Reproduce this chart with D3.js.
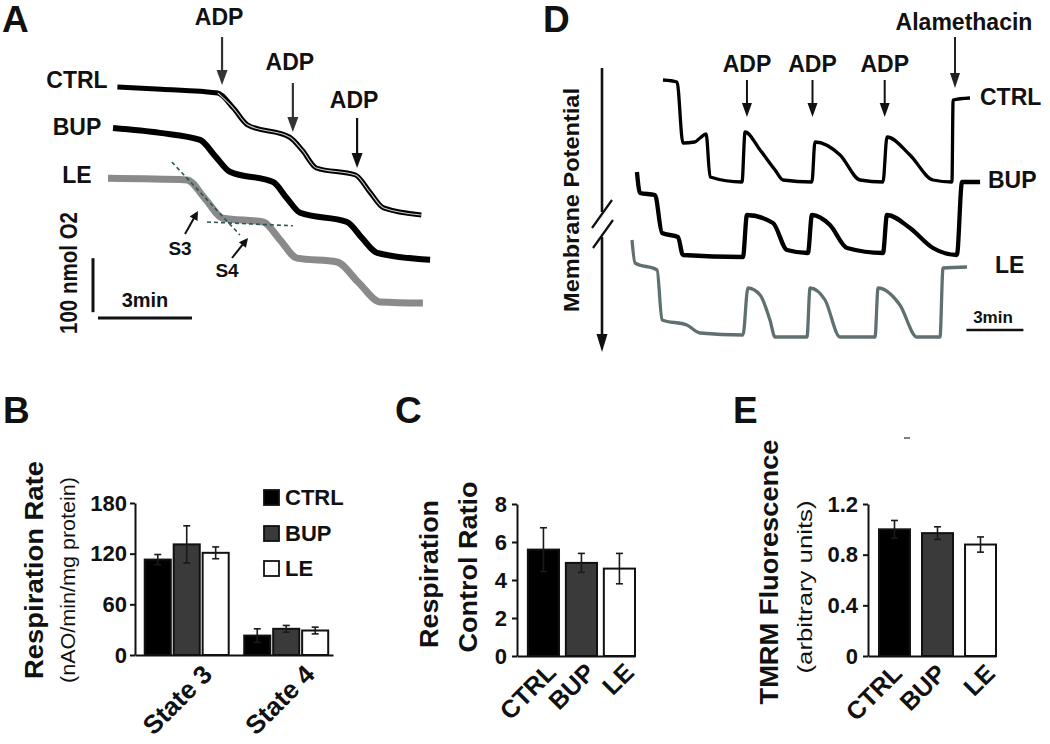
<!DOCTYPE html>
<html>
<head>
<meta charset="utf-8">
<script src="https://cdn.jsdelivr.net/npm/d3@7"></script>
<style>
  body { margin: 0; background: #fff; }
  text { font-family: "Liberation Sans", Arial, Helvetica, sans-serif; font-weight: bold; fill: #111; }
</style>
</head>
<body>
<svg id="fig" width="1050" height="744"></svg>
<script>
// ---------- data ----------
// panel A: oxygen traces, [time (min), O2 (nmol)]
var o2Ctrl = [[0.3,450],[1.7,446],[3.5,439],[4.0,411],[4.45,380],[5.8,357],[6.2,333],[6.65,300],[7.9,287],[8.35,256],[8.8,226],[10.0,213]];
var o2Bup  = [[0.16,374],[1.66,365],[2.94,352],[3.42,322],[3.89,293],[5.27,274],[5.71,244],[6.13,217],[7.63,200],[8.11,170],[8.59,143],[10.28,130]];
var o2Le   = [[0,281],[2.52,278],[3.10,243],[3.67,207],[4.95,200],[5.49,167],[6.03,133],[7.31,126],[7.98,89],[8.68,52],[10.05,50]];
var s3Fit  = [[2.04,311],[4.21,176]];
var s4Fit  = [[3.16,200],[5.9,193]];
var adpTimesA = [3.64, 5.9, 7.95];

// panel D: membrane potential traces, [time (min), signal (a.u.)]
var mpCtrl = [[1.63,280],[2.37,278],[2.68,217],[3.3,218],[3.58,222],[3.9,226],[4.11,183],[5.79,178],[5.95,228],[6.74,210],[7.53,190],[7.95,180],[9.47,178],[9.63,218],[10.95,205],[12.0,180],[13.21,178],[13.42,223],[14.63,205],[15.84,180],[16.84,178],[16.9,260],[17.79,262]];
var mpBup  = [[0.26,188],[0.42,167],[1.21,165],[1.58,127],[2.42,123],[2.68,105],[5.84,103],[6.05,145],[7.42,137],[8.16,110],[9.26,107],[9.47,145],[10.42,135],[11.32,112],[13.21,107],[13.42,145],[14.63,132],[15.84,112],[17.1,105],[17.37,178],[18.32,178]];
var mpLe   = [[0,120],[0.16,97],[1.32,90],[1.58,40],[2.89,35],[3.58,27],[5.84,25],[6.1,72],[6.74,65],[7.26,40],[7.53,23],[9.21,23],[9.37,72],[10.16,60],[10.95,23],[12.79,23],[12.95,72],[14.1,55],[15.0,23],[16.21,23],[16.37,92],[17.63,93]];
var adpTimesD = [6.05, 9.5, 13.3];
var alaTimeD = 17.0;

// bar panels
var groups = ["CTRL", "BUP", "LE"];
var states = ["State 3", "State 4"];
var rateCtrl = [113, 23], rateCtrlErr = [6, 8];
var rateBup  = [131, 31], rateBupErr  = [22, 4];
var rateLe   = [121, 29], rateLeErr   = [7, 4];
var rcr    = [5.6, 4.9, 4.6], rcrErr  = [1.15, 0.5, 0.8];
var tmrm   = [1.0, 0.97, 0.88], tmrmErr = [0.07, 0.05, 0.06];
var rateTicks = [0, 60, 120, 180];
var rcrTicks  = [0, 2, 4, 6, 8];
var tmrmTicks = [0, 0.4, 0.8, 1.2];

var fills = { CTRL: "#000", BUP: "#3a3a3a", LE: "#fff" };

// ---------- helpers ----------
var svg = d3.select("#fig");

function arrow(g, x1, y1, x2, y2, hw, hl, col, sw) {
  var dx = x2 - x1, dy = y2 - y1, len = Math.hypot(dx, dy);
  var ux = dx / len, uy = dy / len;
  var bx = x2 - ux * hl, by = y2 - uy * hl;
  g.append("line").attr("x1", x1).attr("y1", y1).attr("x2", bx + ux * 1).attr("y2", by + uy * 1)
    .attr("stroke", col).attr("stroke-width", sw);
  g.append("path")
    .attr("d", "M" + x2 + "," + y2 + "L" + (bx - uy * hw) + "," + (by + ux * hw) + "L" + (bx + uy * hw) + "," + (by - ux * hw) + "Z")
    .attr("fill", col);
}

function label(g, x, y, str, size, anchor) {
  return g.append("text").attr("x", x).attr("y", y).attr("font-size", size)
    .attr("text-anchor", anchor || "middle").text(str);
}

function vtext(g, x, y, str, size, len, weight) {
  var t = g.append("text").attr("transform", "translate(" + x + "," + y + ") rotate(-90)")
    .attr("text-anchor", "middle").attr("font-size", size).text(str);
  if (len) t.attr("textLength", len).attr("lengthAdjust", "spacingAndGlyphs");
  if (weight) t.style("font-weight", weight);
  return t;
}

function styleAxis(ax) {
  ax.select(".domain").attr("stroke", "#111").attr("stroke-width", 2);
  ax.selectAll(".tick line").attr("stroke", "#111").attr("stroke-width", 2);
  ax.selectAll(".tick text").attr("font-size", 22).attr("fill", "#111")
    .style("font-family", '"Liberation Sans", Arial, sans-serif').style("font-weight", "bold");
}

function errBar(g, cx, y, v, e) {
  var col = "#1a1a1a";
  g.append("line").attr("x1", cx).attr("x2", cx).attr("y1", y(v - e)).attr("y2", y(v + e))
    .attr("stroke", col).attr("stroke-width", 1.6);
  [v - e, v + e].forEach(function (w) {
    g.append("line").attr("x1", cx - 3.5).attr("x2", cx + 3.5).attr("y1", y(w)).attr("y2", y(w))
      .attr("stroke", col).attr("stroke-width", 1.6);
  });
}

function xLabels(g, names, pos, yy, dx, size) {
  names.forEach(function (n, i) {
    g.append("text").attr("transform", "translate(" + (pos(n) + dx[i]) + "," + yy + ") rotate(-45)")
      .attr("text-anchor", "end").attr("font-size", size).text(n);
  });
}

// ---------- panel A ----------
var gA = svg.append("g");
label(gA, 2, 32, "A", 37, "start");
var xA = d3.scaleLinear().domain([0, 10.5]).range([108, 437]);
var yA = d3.scaleLinear().domain([0, 450]).range([330, 87]);
var lineA = d3.line().x(function (d) { return xA(d[0]); }).y(function (d) { return yA(d[1]); }).curve(d3.curveMonotoneX);

gA.append("path").datum(o2Le).attr("d", lineA).attr("fill", "none").attr("stroke", "#8a8a8a").attr("stroke-width", 7);
gA.append("path").datum(o2Bup).attr("d", lineA).attr("fill", "none").attr("stroke", "#000").attr("stroke-width", 6);
gA.append("path").datum(o2Ctrl).attr("d", lineA).attr("fill", "none").attr("stroke", "#000").attr("stroke-width", 5);
gA.append("path").datum(o2Ctrl.filter(function (d) { return d[0] >= 3.5; })).attr("d", lineA)
  .attr("fill", "none").attr("stroke", "#ccc").attr("stroke-width", 1.1);

[s3Fit, s4Fit].forEach(function (f) {
  gA.append("path").datum(f).attr("d", d3.line().x(function (d) { return xA(d[0]); }).y(function (d) { return yA(d[1]); }))
    .attr("fill", "none").attr("stroke", "#2d5656").attr("stroke-width", 1.6).attr("stroke-dasharray", "4,3");
});

label(gA, 77, 88, "CTRL", 23);
label(gA, 77, 135, "BUP", 23);
label(gA, 77, 183, "LE", 23);

var adpY = [[37, 85, 25], [83, 132, 70], [118, 168, 108]];
adpTimesA.forEach(function (t, i) {
  var x = xA(t);
  arrow(gA, x, adpY[i][0], x, adpY[i][1], 5.5, 15, i < 2 ? "#333" : "#111", 2.2);
  label(gA, x - 3, adpY[i][2], "ADP", 23);
});

arrow(gA, 185, 234, 198, 211, 4.5, 9, "#111", 2);
arrow(gA, 232, 258, 248, 238, 4.5, 9, "#111", 2);
label(gA, 180, 255, "S3", 19);
label(gA, 227, 277, "S4", 19);

// scale bars
gA.append("line").attr("x1", 93).attr("x2", 93).attr("y1", yA(133)).attr("y2", yA(33)).attr("stroke", "#111").attr("stroke-width", 3);
gA.append("line").attr("x1", xA(-0.32)).attr("x2", xA(2.68)).attr("y1", 318).attr("y2", 318).attr("stroke", "#111").attr("stroke-width", 3);
label(gA, 145, 307, "3min", 20);
vtext(gA, 77, 273, "100 nmol O2", 23, 122);

// ---------- panel D ----------
var gD = svg.append("g");
label(gD, 543, 32, "D", 37, "start");
var xD = d3.scaleLinear().domain([0, 18.5]).range([632, 983.5]);
var yD = d3.scaleLinear().domain([0, 300]).range([360, 60]);
var lineD = d3.line().x(function (d) { return xD(d[0]); }).y(function (d) { return yD(d[1]); }).curve(d3.curveMonotoneX);

gD.append("path").datum(mpLe).attr("d", lineD).attr("fill", "none").attr("stroke", "#607070").attr("stroke-width", 3.3);
gD.append("path").datum(mpBup).attr("d", lineD).attr("fill", "none").attr("stroke", "#000").attr("stroke-width", 4.3);
gD.append("path").datum(mpCtrl).attr("d", lineD).attr("fill", "none").attr("stroke", "#000").attr("stroke-width", 3.3);

adpTimesD.forEach(function (t) {
  var x = xD(t);
  arrow(gD, x, 80, x, 117, 5, 14, "#111", 2);
  label(gD, x, 72, "ADP", 23);
});
arrow(gD, xD(alaTimeD), 37, xD(alaTimeD), 88, 5, 15, "#222", 2);
label(gD, 964, 30, "Alamethacin", 23);

label(gD, 980, 105, "CTRL", 23, "start");
label(gD, 988, 188, "BUP", 23, "start");
label(gD, 995, 273, "LE", 23, "start");

// potential axis arrow with break
gD.append("line").attr("x1", 602).attr("x2", 602).attr("y1", 68).attr("y2", 212).attr("stroke", "#111").attr("stroke-width", 2.6);
arrow(gD, 602, 237, 602, 352, 5.5, 18, "#111", 2.6);
gD.append("line").attr("x1", 592).attr("y1", 228).attr("x2", 612).attr("y2", 200).attr("stroke", "#111").attr("stroke-width", 2.2);
gD.append("line").attr("x1", 593).attr("y1", 248).attr("x2", 613).attr("y2", 220).attr("stroke", "#111").attr("stroke-width", 2.2);
vtext(gD, 579, 200, "Membrane Potential", 22, 224);

gD.append("line").attr("x1", xD(17.6)).attr("x2", xD(20.6)).attr("y1", 330).attr("y2", 330).attr("stroke", "#111").attr("stroke-width", 2.5);
label(gD, 993, 323, "3min", 17);

// ---------- panel B ----------
var gB = svg.append("g");
label(gB, 3, 423, "B", 37, "start");
var yB = d3.scaleLinear().domain([0, 180]).range([655, 503]);
var xB = d3.scaleBand().domain(states).range([135, 333]).paddingInner(0.156).paddingOuter(0.073).align(0.67);
var xBi = d3.scaleBand().domain(groups).range([0, xB.bandwidth()]).paddingInner(0.1);
var rateVals = { CTRL: rateCtrl, BUP: rateBup, LE: rateLe };
var rateErrs = { CTRL: rateCtrlErr, BUP: rateBupErr, LE: rateLeErr };

states.forEach(function (s, si) {
  groups.forEach(function (g) {
    var x0 = xB(s) + xBi(g), v = rateVals[g][si];
    gB.append("rect").attr("x", x0).attr("y", yB(v)).attr("width", xBi.bandwidth()).attr("height", yB(0) - yB(v))
      .attr("fill", fills[g]).attr("stroke", "#111").attr("stroke-width", 2);
    errBar(gB, x0 + xBi.bandwidth() / 2, yB, v, rateErrs[g][si]);
  });
});
var axB = gB.append("g").attr("transform", "translate(135,0)").call(d3.axisLeft(yB).tickValues(rateTicks).tickSize(5).tickSizeOuter(0).tickPadding(3));
styleAxis(axB);
var axBx = gB.append("g").attr("transform", "translate(0," + yB(0) + ")").call(d3.axisBottom(xB).tickSize(0).tickFormat(""));
styleAxis(axBx);
xLabels(gB, states, function (s) { return xB(s) + xB.bandwidth() / 2; }, 676, [27, 30], 26);

vtext(gB, 43, 570, "Respiration Rate", 26, 218);
vtext(gB, 75, 580, "(nAO/min/mg protein)", 21, 206, "normal");

groups.forEach(function (g, i) {
  var yy = [490, 526, 561][i];
  gB.append("rect").attr("x", 264).attr("y", yy).attr("width", 15).attr("height", 15)
    .attr("fill", fills[g]).attr("stroke", "#111").attr("stroke-width", 1.8);
  label(gB, 285, yy + 15, g, 22, "start");
});

// ---------- panel C ----------
var gC = svg.append("g");
label(gC, 395, 423, "C", 37, "start");
var yC = d3.scaleLinear().domain([0, 8]).range([656, 504]);
var xC = d3.scaleBand().domain(groups).range([517, 635]).paddingInner(0.18).paddingOuter(0.143).align(1);
groups.forEach(function (g, i) {
  gC.append("rect").attr("x", xC(g)).attr("y", yC(rcr[i])).attr("width", xC.bandwidth()).attr("height", yC(0) - yC(rcr[i]))
    .attr("fill", fills[g]).attr("stroke", "#111").attr("stroke-width", 2);
  errBar(gC, xC(g) + xC.bandwidth() / 2, yC, rcr[i], rcrErr[i]);
});
var axC = gC.append("g").attr("transform", "translate(517,0)").call(d3.axisLeft(yC).tickValues(rcrTicks).tickSize(5).tickSizeOuter(0).tickPadding(5));
styleAxis(axC);
var axCx = gC.append("g").attr("transform", "translate(0," + yC(0) + ")").call(d3.axisBottom(xC).tickSize(0).tickFormat(""));
styleAxis(axCx);
xLabels(gC, groups, function (g) { return xC(g) + xC.bandwidth() / 2; }, 674, [14, 15, 16], 25);
vtext(gC, 438, 574, "Respiration", 26, 148);
vtext(gC, 477, 567, "Control Ratio", 26, 171);

// ---------- panel E ----------
var gE = svg.append("g");
label(gE, 733, 423, "E", 37, "start");
var yE = d3.scaleLinear().domain([0, 1.2]).range([656, 504]);
var xE = d3.scaleBand().domain(groups).range([868, 996]).paddingInner(0.28).paddingOuter(0.128).align(1);
groups.forEach(function (g, i) {
  gE.append("rect").attr("x", xE(g)).attr("y", yE(tmrm[i])).attr("width", xE.bandwidth()).attr("height", yE(0) - yE(tmrm[i]))
    .attr("fill", fills[g]).attr("stroke", "#111").attr("stroke-width", 2);
  errBar(gE, xE(g) + xE.bandwidth() / 2, yE, tmrm[i], tmrmErr[i]);
});
var axE = gE.append("g").attr("transform", "translate(868,0)")
  .call(d3.axisLeft(yE).tickValues(tmrmTicks).tickSize(5).tickSizeOuter(0).tickPadding(5).tickFormat(function (d) { return d === 0 ? "0" : d3.format(".1f")(d); }));
styleAxis(axE);
var axEx = gE.append("g").attr("transform", "translate(0," + yE(0) + ")").call(d3.axisBottom(xE).tickSize(0).tickFormat(""));
styleAxis(axEx);
xLabels(gE, groups, function (g) { return xE(g) + xE.bandwidth() / 2; }, 675, [9, 10, 16], 25);
vtext(gE, 778, 572, "TMRM Fluorescence", 26, 265);
vtext(gE, 812, 587, "(arbitrary units)", 21, 173, "normal");
gE.append("line").attr("x1", 904).attr("x2", 910).attr("y1", 438).attr("y2", 438).attr("stroke", "#555").attr("stroke-width", 1.5);
</script>
</body>
</html>
